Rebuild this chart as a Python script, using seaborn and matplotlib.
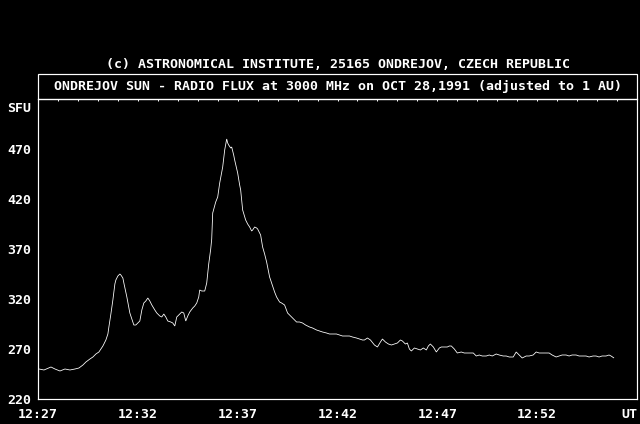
import numpy as np
import pandas as pd
import seaborn as sns
from matplotlib import pyplot as plt
from matplotlib.patches import Rectangle
from matplotlib.ticker import MultipleLocator

# seconds after 12:27:00 UT and flux (SFU)
time_s = [3, 18, 39, 51, 66, 81, 96, 111, 123, 135, 144, 156, 165, 174, 183, 195,
          204, 210, 213, 219, 225, 231, 234, 240, 246, 249, 255, 258, 267, 276, 285,
          288, 294, 300, 306, 312, 318, 324, 330, 336, 342, 351, 357, 366, 372, 378,
          384, 390, 399, 405, 411, 417, 426, 432, 438, 444, 450, 456, 465, 471, 477,
          483, 486, 492, 501, 507, 513, 519, 522, 525, 534, 540, 546, 555, 561, 567,
          570, 573, 579, 582, 588, 591, 600, 606, 609, 615, 624, 630, 636, 642, 645,
          651, 657, 660, 669, 675, 681, 687, 696, 702, 711, 717, 726, 732, 741, 750,
          759, 765, 777, 786, 795, 804, 816, 825, 837, 846, 855, 867, 876, 885, 897,
          906, 915, 927, 936, 945, 957, 966, 975, 981, 990, 999, 1011, 1020, 1029,
          1035, 1044, 1053, 1062, 1071, 1080, 1089, 1095, 1104, 1110, 1116, 1122,
          1131, 1140, 1149, 1158, 1167, 1173, 1179, 1188, 1197, 1206, 1212, 1221,
          1230, 1236, 1242, 1251, 1260, 1272, 1281, 1290, 1299, 1308, 1317, 1326,
          1335, 1347, 1356, 1365, 1377, 1386, 1398, 1407, 1416, 1428, 1437, 1446,
          1455, 1467, 1476, 1488, 1497, 1506, 1515, 1527, 1536, 1545, 1557, 1566,
          1575, 1587, 1596, 1605, 1617, 1626, 1638, 1647, 1656, 1668, 1677, 1686,
          1695, 1707, 1716, 1722, 1731]
flux_sfu = [250, 249, 252, 250, 248, 250, 249, 250, 251, 254, 257, 260, 262, 265, 267, 273,
            279, 285, 292, 305, 319, 335, 339, 343, 345, 344, 341, 336, 322, 306, 297,
            294, 294, 296, 298, 309, 316, 318, 321, 318, 314, 309, 306, 303, 302, 305,
            302, 298, 297, 296, 293, 302, 305, 307, 306, 298, 303, 307, 311, 313, 316,
            322, 329, 328, 328, 336, 355, 370, 380, 406, 417, 422, 436, 452, 469, 480,
            476, 474, 471, 472, 464, 459, 446, 434, 429, 409, 399, 395, 392, 388, 389,
            392, 391, 390, 384, 372, 365, 357, 342, 336, 327, 322, 317, 316, 314, 306,
            303, 301, 297, 297, 296, 294, 292, 291, 289, 288, 287, 286, 285, 285, 285,
            284, 283, 283, 283, 282, 281, 280, 279, 279, 281, 279, 274, 272, 277,
            280, 277, 275, 274, 275, 276, 279, 278, 275, 276, 270, 268,
            271, 270, 269, 271, 269, 273, 275, 272, 267, 271, 272, 272,
            272, 273, 273, 270, 266, 267, 266, 266, 266, 266, 263, 264,
            263, 263, 264, 263, 265, 264, 263, 263, 262, 262, 267, 264,
            261, 263, 263, 264, 267, 266, 266, 266, 266, 264, 262, 263,
            264, 264, 263, 264, 264, 263, 263, 263, 262, 263, 263, 262,
            263, 263, 264, 263, 261]

x_ticks = [0, 5, 10, 15, 20, 25, 30]
x_labels = ["12:27", "12:32", "12:37", "12:42", "12:47", "12:52", "UT"]
y_ticks = [220, 270, 320, 370, 420, 470]

top_text = "(c) ASTRONOMICAL INSTITUTE, 25165 ONDREJOV, CZECH REPUBLIC"
title_text = "ONDREJOV SUN - RADIO FLUX at 3000 MHz on OCT 28,1991 (adjusted to 1 AU)"

df = pd.DataFrame({"minutes": np.array(time_s) / 60.0, "flux": flux_sfu})

sns.set_style("dark", {"axes.facecolor": "black", "figure.facecolor": "black",
                       "axes.edgecolor": "white", "axes.grid": False})
plt.rcParams['font.family'] = ['DejaVu Sans Mono']
plt.rcParams['font.weight'] = 'bold'

px = 0.72  # one pixel in points at dpi 100
fig = plt.figure(figsize=(6.4, 4.24), dpi=100)
ax = fig.add_axes([38 / 640, 25 / 424, 599 / 640, 300 / 424])

sns.lineplot(data=df, x="minutes", y="flux", ax=ax, color="white",
             linewidth=0.8 * px, estimator=None, sort=False)
for ln in ax.lines:
    ln.set_linewidth(0.8 * px)
    ln.set_solid_joinstyle("miter")
    ln.set_solid_capstyle("butt")

ax.set_xlim(0, 30)
ax.set_ylim(220, 520)
ax.set_xlabel("")
ax.set_ylabel("")
for s in ax.spines.values():
    s.set_color("white")
    s.set_linewidth(1.2 * px)

ax.set_xticks(x_ticks)
ax.set_xticklabels(x_labels)
ax.set_yticks(y_ticks)
ax.set_yticklabels([str(v) for v in y_ticks])
ax.xaxis.set_minor_locator(MultipleLocator(1))
ax.yaxis.set_minor_locator(MultipleLocator(10))

ax.tick_params(which="major", direction="out", length=3 * px, width=3 * px,
               colors="white", labelsize=9.5, pad=4)
ax.tick_params(which="minor", direction="out", length=2 * px, width=1 * px,
               colors="white")
ax.tick_params(axis="y", pad=3)
lbls = ax.get_xticklabels()
lbls[-1].set_horizontalalignment("right")

# small inward ticks along the top edge
sec = ax.secondary_xaxis("top")
sec.set_xticks(x_ticks)
sec.xaxis.set_minor_locator(MultipleLocator(1))
sec.tick_params(which="both", direction="in", length=2 * px, width=1 * px,
                colors="white", labeltop=False)
sec.spines["top"].set_visible(False)

ax.text(-0.012, 0.97, "SFU", transform=ax.transAxes, ha="right", va="center",
        color="white", fontsize=9.5, fontweight="bold")

# title box above the plot
ax.add_patch(Rectangle((0, 1), 1, 25 / 300, transform=ax.transAxes, fill=False,
                       edgecolor="white", linewidth=1.2 * px, clip_on=False))
ax.text(0.5, 1 + 12.5 / 300, title_text, transform=ax.transAxes, ha="center",
        va="center", color="white", fontsize=9.5, fontweight="bold")
fig.text(338 / 640, 1 - 64 / 424, top_text, ha="center", va="center",
         color="white", fontsize=9.5, fontweight="bold")

plt.savefig("out.png", dpi=100, facecolor="black")
